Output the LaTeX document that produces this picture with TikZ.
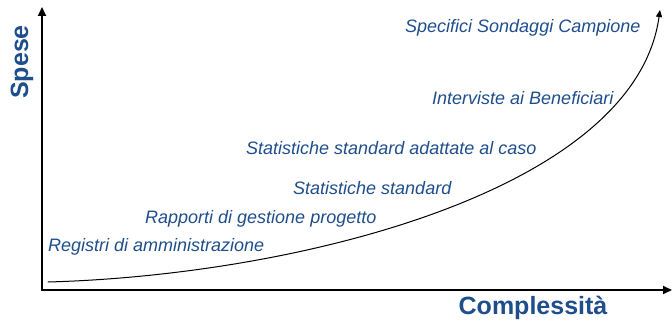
\documentclass[tikz,border=0pt]{standalone}
\usepackage{fontspec}
\setmainfont{Liberation Sans}
\usetikzlibrary{arrows.meta}
\definecolor{spesablu}{RGB}{31,78,140}
\tikzset{
  voce/.style={font=\fontsize{18}{20}\selectfont\itshape, text=spesablu, anchor=west, inner sep=0pt},
  asse/.style={font=\fontsize{25}{28}\selectfont\bfseries, text=spesablu, inner sep=0pt},
}
\begin{document}
\begin{tikzpicture}[x=1pt,y=-1pt, line join=round, line cap=round, >={Triangle[length=9pt,width=8pt]}]
\def \xmin{42};
\def \xmax{672};
\def \ymin{290};
\def \ymax{7};
\useasboundingbox (0,0) rectangle (672,323);
\coordinate (O) at (\xmin,\ymin);
\coordinate (X) at (\xmax,\ymin);
\coordinate (Y) at (\xmin,\ymax);
\draw[->, line width=2pt] (O) -- (X);
\draw[->, line width=2pt] (O) -- (Y);
\node[asse] (xlab) at (533,308) {Complessità};
\node[asse, rotate=90] (ylab) at (22,62) {Spese};
% curva
\coordinate (c0) at (48,282);
\coordinate (c1) at (660,10);
\draw[-{Triangle[length=7pt,width=6pt]}, line width=1pt] (c0) .. controls (300,275) and (635,190) .. (c1);
% voci
\node[voce] (v1) at (48,247) {Registri di amministrazione};
\node[voce] (v2) at (145,219) {Rapporti di gestione progetto};
\node[voce] (v3) at (293,188) {Statistiche standard};
\node[voce] (v4) at (246,148) {Statistiche standard adattate al caso};
\node[voce] (v5) at (432,98) {Interviste ai Beneficiari};
\node[voce] (v6) at (405,28) {Specifici Sondaggi Campione};
\end{tikzpicture}
\end{document}
